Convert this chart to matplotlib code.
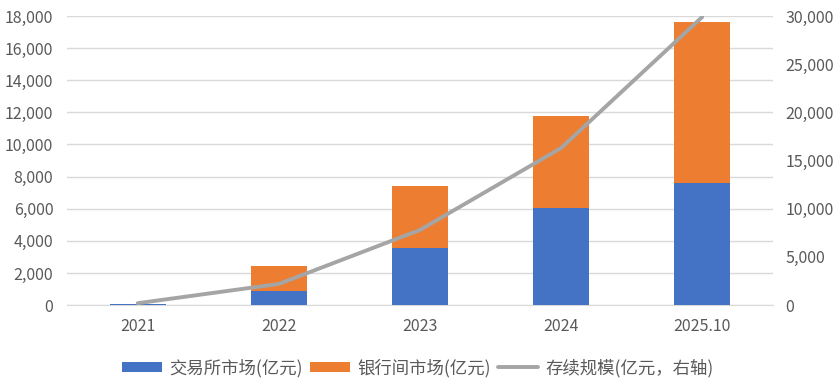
import numpy as np
import matplotlib
matplotlib.use("Agg")
import matplotlib.pyplot as plt
from matplotlib.ticker import FuncFormatter

plt.rcParams['font.family'] = ['Noto Sans CJK SC', 'DejaVu Sans']

# Data
years = ['2021', '2022', '2023', '2024', '2025.10']
exchange = [80, 890, 3550, 6020, 7620]          # 交易所市场(亿元)
interbank = [20, 1560, 3860, 5750, 10020]       # 银行间市场(亿元)
outstanding = [200, 2200, 7800, 16300, 29900]   # 存续规模(亿元, 右轴)

blue = '#4472C4'
orange = '#ED7D31'
gray = '#A5A5A5'
text_color = '#595959'

fig = plt.figure(figsize=(8.4, 3.8), dpi=100)
ax = fig.add_axes([0.080, 0.197, 0.840, 0.761])
ax2 = ax.twinx()

x = np.arange(len(years))
b1 = ax.bar(x, exchange, width=0.4, color=blue, zorder=3, label='交易所市场(亿元)')
b2 = ax.bar(x, interbank, width=0.4, bottom=exchange, color=orange, zorder=3,
            label='银行间市场(亿元)')
ln, = ax2.plot(x, outstanding, color=gray, linewidth=2.8, solid_capstyle='round',
               label='存续规模(亿元，右轴)')

ax.set_xlim(-0.5, len(years) - 0.5)
ax.set_ylim(0, 18000)
ax.set_yticks(np.arange(0, 18001, 2000))
ax2.set_ylim(0, 30000)
ax2.set_yticks(np.arange(0, 30001, 5000))

fmt = FuncFormatter(lambda v, p: f'{int(v):,}')
ax.yaxis.set_major_formatter(fmt)
ax2.yaxis.set_major_formatter(fmt)

ax.set_xticks(x)
ax.set_xticklabels(years)

ax.grid(axis='y', color='#D9D9D9', linewidth=1.0, zorder=0)
ax.set_axisbelow(True)

for a in (ax, ax2):
    for s in a.spines.values():
        s.set_visible(False)
    a.tick_params(length=0, labelsize=11.5, labelcolor=text_color)
ax.spines['bottom'].set_visible(True)
ax.spines['bottom'].set_color('#D9D9D9')
ax.tick_params(axis='y', pad=10)
ax2.tick_params(axis='y', pad=9)
ax.tick_params(axis='x', pad=9)

ax.legend(handles=[b1, b2, ln], loc='center', bbox_to_anchor=(0.497, -0.217),
          ncol=3, frameon=False, fontsize=12.5, labelcolor=text_color,
          handlelength=2.3, handleheight=0.58, handletextpad=0.45, columnspacing=0.4)

fig.savefig('out.png', dpi=100)
